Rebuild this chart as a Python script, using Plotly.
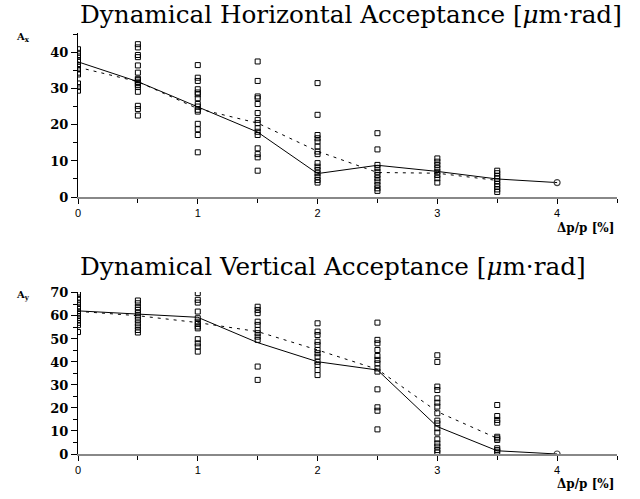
import plotly.graph_objects as go

# ---------------- data ----------------
dp = [0, 0.5, 1, 1.5, 2, 2.5, 3, 3.5]
dp_line = [0, 0.5, 1, 1.5, 2, 2.5, 3, 3.5, 4]

ax_points = [
    [41, 40, 39, 38, 37.5, 36.5, 35.5, 34.5, 34, 31.5, 30.5, 29.5],
    [42.4, 41.5, 39.4, 38.8, 36.5, 34.5, 32.8, 32.5, 32, 31.6, 31.1, 30.5, 29.2, 25.3, 24.4, 22.6],
    [36.6, 33.1, 32.2, 29.9, 29, 28.5, 27.4, 25.8, 25.1, 24.2, 23.7, 20.3, 18.8, 17.2, 12.4],
    [37.6, 32.2, 27.9, 27.4, 25.8, 23.3, 21.4, 20.5, 19.1, 18.1, 17.2, 13.5, 11.9, 11, 7.3],
    [31.6, 22.8, 17.2, 16.3, 15.4, 14, 12.6, 11.9, 9.4, 8.4, 7.5, 6.6, 5.6, 4.7, 4],
    [17.7, 13.2, 8.9, 8, 7, 6.1, 5.2, 4.3, 3.3, 2.4, 1.7],
    [10.7, 9.8, 8.9, 8, 7, 6.1, 5.2, 4],
    [7.3, 6.6, 5.8, 5.1, 4.4, 3.6, 2.9, 2.1, 1.4],
]
ax_solid = [37.5, 32, 25, 18, 6.5, 8.8, 7.1, 5, 4]
ax_dashed = [36, 32, 24.5, 20.5, 12.7, 6.8, 6.6, 4.6]

ay_points = [
    [69.5, 68, 67, 65.5, 64, 63, 62, 61, 60, 59, 58, 57, 56, 53],
    [66.7, 65.5, 63.8, 62.6, 61.2, 59.7, 58.3, 56.8, 55.4, 53.9, 52.8],
    [69.9, 67, 65.8, 61.9, 59, 57.5, 56.5, 55.4, 54.6, 49.9, 48.1, 46.7, 44.5],
    [64, 62.6, 61.2, 57.5, 56.1, 53.9, 52.5, 51, 49.6, 38, 32.2],
    [56.8, 53.2, 51.7, 48.8, 47.4, 45.2, 43.8, 42.3, 40.1, 38.7, 36.5, 34.3],
    [57.1, 49.6, 48.1, 45.2, 42.6, 40.9, 39.4, 37.2, 35.8, 28.1, 20.3, 18.8, 10.7],
    [42.9, 40, 29.3, 27.8, 24.2, 22.3, 20.6, 17.7, 14.5, 13.3, 11.2, 9.3, 6.4, 4.6, 3.2, 1.7, 0.6],
    [21.3, 16.5, 14.8, 13.6, 7.5, 6.8, 6.1, 2.5, 1.7, 1],
]
ay_solid = [62.2, 60.9, 59.4, 48.4, 40.1, 36.5, 11.9, 1.4, 0]
ay_dashed = [62, 60.1, 57.1, 53.2, 45.2, 36.8, 18.4, 6.8]

x_ticks = [0, 1, 2, 3, 4]
titles = ["Dynamical Horizontal Acceptance [<i>μ</i>m·rad]",
          "Dynamical Vertical Acceptance [<i>μ</i>m·rad]"]
ylabels = ["A<sub>x</sub>", "A<sub>y</sub>"]
xlabel = "Δp/p [%]"

# ---------------- figure ----------------
fig = go.Figure()

def add_panel(points, solid, dashed, xa, ya):
    xs, ys = [], []
    for x, col in zip(dp, points):
        xs += [x] * len(col)
        ys += col
    fig.add_trace(go.Scatter(x=xs, y=ys, mode="markers", xaxis=xa, yaxis=ya,
                             marker=dict(symbol="square-open", size=5, color="black",
                                         line=dict(width=1)),
                             showlegend=False, hoverinfo="skip"))
    fig.add_trace(go.Scatter(x=dp[:len(dashed)], y=dashed, mode="lines", xaxis=xa, yaxis=ya,
                             line=dict(color="black", width=1, dash="3px,5px"),
                             showlegend=False))
    fig.add_trace(go.Scatter(x=dp_line, y=solid, mode="lines", xaxis=xa, yaxis=ya,
                             line=dict(color="black", width=1), showlegend=False))
    fig.add_trace(go.Scatter(x=[dp_line[-1]], y=[solid[-1]], mode="markers", xaxis=xa, yaxis=ya,
                             marker=dict(symbol="circle-open", size=6, color="#444",
                                         line=dict(width=1.2)),
                             showlegend=False))

add_panel(ax_points, ax_solid, ax_dashed, "x", "y")
add_panel(ay_points, ay_solid, ay_dashed, "x2", "y2")

W, H = 640, 499
L, R = 78, 617            # plot left / right in window pixels
PW = R - L

def ypaper(px):
    return 1 - px / H

def xpaper(px):
    return (px - L) / PW

xaxis_common = dict(range=[0, 4.5], tickvals=x_ticks, ticks="outside", ticklen=5,
                    tickcolor="black", showline=True, linecolor="#888", linewidth=2,
                    showgrid=False, zeroline=False, automargin=False,
                    tickfont=dict(family="Liberation Sans", size=11, color="black"),
                    minor=dict(dtick=0.5, tick0=0, ticks="outside", ticklen=4, tickcolor="black"))
yaxis_common = dict(ticks="outside", ticklen=6, tickcolor="black", dtick=10,
                    showline=True, linecolor="black", linewidth=1, showgrid=False,
                    zeroline=False, automargin=False,
                    tickfont=dict(family="DejaVu Serif", size=13, color="black", weight="bold"),
                    minor=dict(dtick=5, ticks="outside", ticklen=4, tickcolor="black"))

fig.update_layout(
    width=W, height=H,
    margin=dict(l=L, r=W - R, t=0, b=0, pad=0),
    plot_bgcolor="white", paper_bgcolor="white",
    xaxis=dict(**xaxis_common, domain=[0, 1], anchor="y"),
    yaxis=dict(**yaxis_common, range=[0, 45.5], domain=[ypaper(197), ypaper(33)], anchor="x"),
    xaxis2=dict(**xaxis_common, domain=[0, 1], anchor="y2"),
    yaxis2=dict(**yaxis_common, range=[0, 70.4], domain=[ypaper(454), ypaper(292)], anchor="x2"),
)

ann = []
for t, ypx in zip(titles, [14, 266]):
    ann.append(dict(text=t, xref="paper", yref="paper", x=xpaper(78), xanchor="left",
                    y=ypaper(ypx), yanchor="middle", showarrow=False,
                    font=dict(family="DejaVu Serif", size=24.7, color="black")))
for lab, ypx in zip(ylabels, [38, 295]):
    ann.append(dict(text=lab, xref="paper", yref="paper", x=xpaper(23), xanchor="center",
                    y=ypaper(ypx), yanchor="middle", showarrow=False,
                    font=dict(family="DejaVu Serif", size=10, color="black", weight="bold")))
for ypx in [228, 484]:
    ann.append(dict(text=xlabel, xref="paper", yref="paper", x=xpaper(616), xanchor="right",
                    y=ypaper(ypx), yanchor="middle", showarrow=False,
                    font=dict(family="DejaVu Serif", size=12, color="black", weight="bold")))
fig.update_layout(annotations=ann)

# remove the browser's default 8px body margin so the figure fills the window
fig.write_html("out.html", config={"displayModeBar": False},
               post_script="document.body.style.margin='0';document.body.style.overflow='hidden';")
